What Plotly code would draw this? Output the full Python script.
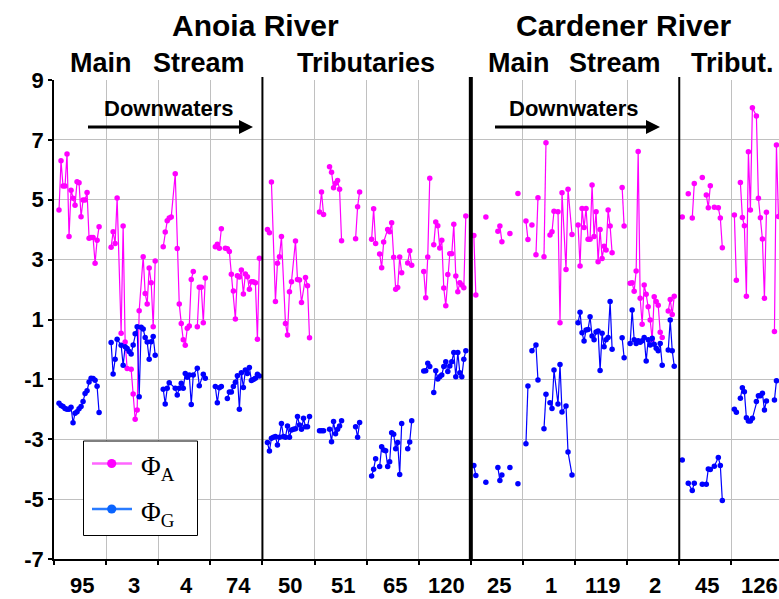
import plotly.graph_objects as go

# Sampling sites (one block of sample slots per site) along the two rivers
site_labels = ["95", "3", "4", "74", "50", "51", "65", "120", "25", "1", "119", "2", "45", "126"]
site_first_slot = [2, 28, 54, 80, 106, 132, 158, 184, 209, 235, 261, 287, 313, 339]
SLOTS_PER_SITE = 26

# Phi_A per site, one value per sample slot (None = no sample in that slot)
phi_a = [
    [4.66, 6.30, 5.46, 5.46, 6.53, 3.77, 5.32, 5.05, 4.82, 5.60, 5.57, 4.43, 4.99, 4.99, 5.24, 3.71, 3.74, 3.74, 2.88, 3.65, 4.10],
    [3.41, 3.93, 3.54, 5.06, None, 0.54, 4.12, 0.25, -0.64, None, -0.66, -1.49, -2.33, -2.02, 1.29, None, 3.10, 1.87, 1.52, 2.72, 2.23, 0.76, 2.95],
    [3.43, 3.92, 4.30, 4.39, 4.42, None, 5.87, 3.37, 1.52, 0.87, 0.32, 0.14, 0.71, 0.78, 2.34, 2.60, None, 0.76, 2.08, 2.08, 0.89, 2.39],
    [3.43, 3.51, 3.38, 4.03, None, 3.38, 3.36, 3.27, 2.51, 1.95, 1.02, 2.46, 2.42, 2.65, 1.85, 2.52, 2.43, 2.01, 2.26, 2.26, 2.23, 0.34, 3.05],
    [4.01, 3.90, 5.59, None, 1.60, 2.88, 3.10, 3.77, None, 0.87, 0.48, 1.93, 2.26, None, 3.62, 2.34, 2.32, 1.57, None, 2.40, 2.13, 0.39],
    [4.59, 5.26, 4.51, None, None, 6.10, 5.92, 5.40, 5.55, 5.64, 5.35, 3.63, None, None, None, None, None, None, 3.70, 4.77, 5.26],
    [3.68, 4.70, 3.54, None, 3.19, 2.73, 3.59, None, 4.01, 3.93, 4.23, 3.08, 2.01, 2.07, 3.09, 2.56, None, None, 2.89, 3.30, 2.81],
    [2.60, 1.73, 3.09, 5.72, None, 3.50, 4.26, 4.13, 3.39, 3.65, 2.05, 1.46, 2.50, 3.20, 3.20, 4.18, 2.45, 1.93, 2.23, 2.15, 2.06, 4.46],
    [3.81, 1.82, None, None, None, None, 4.42, None, None, None, None, None, 3.95, 4.12, 3.60, None, None, None, 3.87, None, None, None, 5.21],
    [4.29, 3.67, None, 4.16, None, 3.16, 5.07, None, None, 3.10, 6.90, None, 3.82, 3.93, 4.62, None, 4.60, 0.89, 5.23, None, 2.67, 5.35, None, 3.84],
    [4.16, 2.79, 4.71, 4.07, 4.71, 3.68, 3.68, 5.49, 3.77, 4.60, 2.93, 4.01, 3.04, 3.45, 3.32, 4.66, 4.12, 3.23, None, None, None, None, 5.41, 4.12],
    [2.21, 2.23, 1.94, 2.62, 6.61, 1.71, 0.84, 2.15, 1.84, 1.43, 0.98, 0.32, 1.76, 1.60, 1.48, 0.57, 0.40, None, None, 1.28, 1.67, 1.17, 1.78],
    [4.42, None, None, 5.20, None, 4.39, 5.54, None, None, None, 5.74, None, 5.16, 4.73, 5.47, None, 4.75, None, 4.73, 4.39, 3.40],
    [4.49, 2.31, None, 5.58, 4.41, 4.13, 1.78, 6.60, 4.66, 8.07, None, 7.80, 5.05, 4.40, 3.69, 1.71, 4.58, None, None, None, 0.60, 6.83, 4.44],
]

# Phi_G per site, same slots as phi_a
phi_g = [
    [-1.80, -1.87, -1.91, -1.97, -2.00, -2.00, -1.93, -2.45, -2.13, -2.08, -1.98, -1.91, -1.74, -1.47, -1.38, -1.09, -0.96, -0.97, -1.03, -1.23, -2.11],
    [0.23, -0.82, -0.33, 0.34, None, 0.14, -0.53, 0.09, 0.03, -0.07, -0.15, 0.15, 0.52, 0.76, -1.58, 0.74, 0.68, 0.40, 0.25, -0.33, 0.26, 0.43, -0.19],
    [-1.33, -1.82, -1.30, -1.11, None, None, -1.30, -1.52, -1.30, -1.13, -1.30, -0.80, -0.93, -0.85, -1.84, -0.85, None, -0.63, -1.21, None, -0.83, -0.96],
    [-1.24, -1.78, -1.28, -1.24, None, None, -1.64, -1.42, -1.42, -1.24, -1.10, -0.88, -2.00, -0.78, -1.27, -0.69, -0.80, -0.60, -1.04, -1.00, -0.96, -0.83, -0.89],
    [-3.11, -3.39, -2.97, -2.93, -2.91, -3.19, -2.93, -2.47, -2.91, -2.93, -2.56, -2.93, -2.69, -2.67, -2.65, -2.24, -2.52, -2.67, -2.30, -2.58, -2.58, -2.24],
    [-2.72, -2.72, -2.72, None, None, -2.67, -3.08, -2.41, -2.82, -2.67, -2.56, -2.38, None, None, None, None, None, None, -2.58, -2.93, -2.44],
    [-4.23, -4.00, -3.65, None, -3.91, -3.25, -3.36, -3.38, -3.91, -3.75, -2.78, -2.83, -3.32, -3.11, -4.18, -2.47, None, None, -3.32, -3.09, -2.38],
    [-0.72, -0.71, -0.46, -0.57, None, -1.44, -0.71, -0.99, -0.91, -0.85, -0.57, -0.41, -0.74, -0.55, -0.41, -0.10, -0.91, -0.10, -0.78, -0.91, -0.33, -0.04],
    [-3.88, -4.21, None, None, None, None, -4.44, None, None, None, None, None, -3.94, -4.38, -4.19, None, None, None, -3.94, None, None, None, -4.49],
    [-3.15, -1.22, None, -0.04, None, 0.15, -1.02, None, None, -2.65, -1.50, None, -1.78, -1.97, -0.69, None, -1.82, -0.50, -2.09, None, -1.89, -3.43, None, -4.19],
    [0.89, 1.24, 0.56, 0.28, 0.65, 0.67, 1.09, 0.45, 0.32, 0.58, 0.62, -0.70, 0.54, 0.09, 0.32, 0.40, 1.60, 0.01, None, None, None, None, 0.39, -0.28],
    [0.20, 1.32, 0.32, 0.20, 0.29, 0.24, 0.29, 0.40, -0.39, 0.32, 0.15, 0.37, 0.17, 0.04, -0.04, 0.20, -0.53, None, None, -0.02, 0.98, -0.04, -0.56],
    [-3.69, None, None, -4.47, None, -4.71, -4.47, None, None, None, -4.50, None, -4.50, -3.99, -4.01, None, -3.90, None, -3.61, -3.88, -5.05],
    [-2.00, -2.10, None, -1.63, -1.28, -1.41, -2.28, -2.39, -2.39, -2.30, None, -1.74, -1.55, -1.55, -1.46, -2.02, -1.72, None, None, None, -1.69, -1.05, None],
]

# Offsets (within each site) where a new connected sampling run starts
runs_a = [[0], [0], [0, 17], [0, 5], [0, 2], [0, 5, 18], [0, 4, 18], [0, 5],
          [0, 6, 12, 18, 22], [0, 3, 5, 9, 12], [0, 22], [0, 19], [0, 3, 5, 10, 12, 16], [0, 3, 20]]
runs_g = [[0], [0], [0], [0, 6], [0], [0, 5, 18], [0, 4, 18], [0, 5],
          [0, 6, 12, 18, 22], [0, 3, 9, 12], [0, 22], [0, 19], [0, 3, 10], [0, 3, 20]]

y_ticks = [9, 7, 5, 3, 1, -1, -3, -5, -7]

# Page geometry (pixels)
W, H = 779, 599
ML, MT, MB = 54, 80, 40
PW, PH = W - ML, H - MT - MB
SLOT_PX = 2.004
X_MAX = PW / SLOT_PX - 0.5          # plot is cut at the right page edge

FONT = "Liberation Sans, Arial, sans-serif"
SERIF = "Liberation Serif, Times New Roman, serif"
MAGENTA = "#ff00ff"
BLUE = "#0000ff"


def px_x(px):
    return (px - ML) / PW


def px_y(py):
    return (H - MB - py) / PH


def build(values_by_site, runs_by_site):
    xs, ys = [], []
    for first, vals, runs in zip(site_first_slot, values_by_site, runs_by_site):
        bounds = list(runs) + [len(vals)]
        for a, b in zip(bounds[:-1], bounds[1:]):
            for k in range(a, b):
                if vals[k] is not None:
                    xs.append(first + k)
                    ys.append(vals[k])
            xs.append(None)
            ys.append(None)
    return xs, ys


fig = go.Figure()
for vals, runs, col, name in [(phi_a, runs_a, MAGENTA, "ΦA"), (phi_g, runs_g, BLUE, "ΦG")]:
    xs, ys = build(vals, runs)
    fig.add_trace(go.Scatter(
        x=xs, y=ys, mode="lines+markers", name=name, showlegend=False,
        line=dict(color=col, width=1.2),
        marker=dict(color=col, size=5.5, line=dict(width=0)),
        connectgaps=False,
    ))

boundaries = [SLOTS_PER_SITE * k - 0.5 for k in range(len(site_labels) + 1)]

shapes = []
# river / reach separators
for k, wdt in [(4, 2), (8, 4), (12, 2)]:
    shapes.append(dict(type="line", xref="x", yref="paper",
                       x0=boundaries[k], x1=boundaries[k], y0=0, y1=px_y(77),
                       line=dict(color="black", width=wdt), layer="above"))

# "Downwaters" arrows
for x0, x1 in [(88, 253), (495, 660)]:
    shapes.append(dict(type="line", xref="paper", yref="paper",
                       x0=px_x(x0), x1=px_x(x1 - 12), y0=px_y(127), y1=px_y(127),
                       line=dict(color="black", width=3), layer="above"))
    shapes.append(dict(type="path", xref="paper", yref="paper",
                       path=f"M {px_x(x1 - 14)},{px_y(120)} L {px_x(x1)},{px_y(127)} L {px_x(x1 - 14)},{px_y(134)} Z",
                       fillcolor="black", line=dict(width=0), layer="above"))

# legend box
shapes.append(dict(type="rect", xref="paper", yref="paper",
                   x0=px_x(83.5), x1=px_x(197.5), y0=px_y(441), y1=px_y(535.5),
                   fillcolor="white", line=dict(color="black", width=1), layer="above"))
for py, lcol, mcol in [(463.5, "#ff66ff", MAGENTA), (509, "#2a7bff", "#0a64ff")]:
    shapes.append(dict(type="line", xref="paper", yref="paper",
                       x0=px_x(92), x1=px_x(132), y0=px_y(py), y1=px_y(py),
                       line=dict(color=lcol, width=2.5), layer="above"))
    r = 4.6
    shapes.append(dict(type="circle", xref="paper", yref="paper",
                       x0=px_x(111.7 - r), x1=px_x(111.7 + r), y0=px_y(py + r), y1=px_y(py - r),
                       fillcolor=mcol, line=dict(width=0), layer="above"))

annotations = []


def text(s, px, py, size, family=FONT, xanchor="center"):
    annotations.append(dict(text=s, x=px_x(px), y=px_y(py), xref="paper", yref="paper",
                            xanchor=xanchor, yanchor="middle", showarrow=False,
                            font=dict(family=family, size=size, color="black")))


text("<b>Anoia River</b>", 255, 25, 30)
text("<b>Cardener River</b>", 623.5, 25, 30)
text("<b>Main</b>", 101, 63, 27)
text("<b>Stream</b>", 199, 63, 27)
text("<b>Tributaries</b>", 366, 63, 27)
text("<b>Main</b>", 519, 63, 27)
text("<b>Stream</b>", 615, 63, 27)
text("<b>Tribut.</b>", 732.5, 63, 27)
text("<b>Downwaters</b>", 169, 109, 22)
text("<b>Downwaters</b>", 573.5, 109, 22)
text("Φ<sub>A</sub>", 139, 468, 27, family=SERIF, xanchor="left")
text("Φ<sub>G</sub>", 139, 514, 27, family=SERIF, xanchor="left")

# site labels under each block
for k, lab in enumerate(site_labels):
    annotations.append(dict(text=f"<b>{lab}</b>", x=SLOTS_PER_SITE * k + 13.5, y=px_y(585),
                            xref="x", yref="paper", xanchor="center", yanchor="middle",
                            showarrow=False, font=dict(family=FONT, size=22, color="black")))

fig.update_layout(
    width=W, height=H,
    margin=dict(l=ML, r=0, t=MT, b=MB, pad=0),
    paper_bgcolor="white", plot_bgcolor="white",
    shapes=shapes, annotations=annotations,
    showlegend=False,
    xaxis=dict(range=[-0.5, X_MAX], tickvals=boundaries, showticklabels=False,
               ticks="outside", ticklen=4, tickcolor="black", tickwidth=1.5,
               showgrid=True, gridcolor="#c0c0c0", gridwidth=1,
               showline=True, linecolor="black", linewidth=1.5, zeroline=False),
    yaxis=dict(range=[-7, 9], tickvals=y_ticks, ticktext=[f"<b>{v}</b>" for v in y_ticks],
               ticks="outside", ticklen=4, tickcolor="black", tickwidth=1.5,
               tickfont=dict(family=FONT, size=22, color="black"),
               showgrid=True, gridcolor="#c0c0c0", gridwidth=1,
               showline=True, linecolor="black", linewidth=1.5, zeroline=False),
)

fig.write_html("out.html")
